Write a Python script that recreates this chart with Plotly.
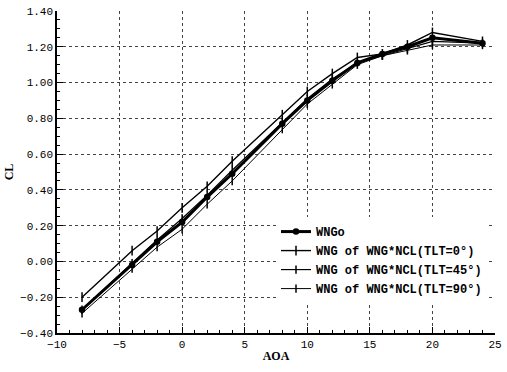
import plotly.graph_objects as go

aoa = [-8, -4, -2, 0, 2, 4, 8, 10, 12, 14, 16, 18, 20, 24]
cl_wngo = [-0.27, -0.02, 0.11, 0.22, 0.36, 0.49, 0.77, 0.90, 1.01, 1.11, 1.16, 1.20, 1.25, 1.22]
cl_tlt0 = [-0.20, 0.06, 0.17, 0.30, 0.42, 0.56, 0.82, 0.95, 1.05, 1.14, 1.16, 1.21, 1.28, 1.23]
cl_tlt45 = [-0.27, -0.01, 0.12, 0.24, 0.37, 0.51, 0.78, 0.91, 1.02, 1.11, 1.15, 1.19, 1.23, 1.22]
cl_tlt90 = [-0.29, -0.04, 0.08, 0.18, 0.32, 0.45, 0.74, 0.88, 0.99, 1.10, 1.15, 1.18, 1.21, 1.21]

names = ["WNGo", "WNG of WNG*NCL(TLT=0\u00b0)", "WNG of WNG*NCL(TLT=45\u00b0)", "WNG of WNG*NCL(TLT=90\u00b0)"]
series = [cl_wngo, cl_tlt0, cl_tlt45, cl_tlt90]
widths = [3.0, 1.4, 1.2, 1.0]
symbols = ["circle", "line-ns-open", "line-ns-open", "line-ns-open"]
msizes = [5, 7, 6, 6]

mono = "Liberation Mono"
fig = go.Figure()
for name, ys, w, sym, ms in zip(names, series, widths, symbols, msizes):
    fig.add_trace(go.Scatter(
        x=aoa, y=ys, name="<b>" + name + "</b>", mode="lines+markers",
        line=dict(color="black", width=w),
        marker=dict(symbol=sym, size=ms, color="black", line=dict(color="black", width=1.5)),
    ))

fig.update_layout(
    width=507, height=372,
    margin=dict(l=57, r=5, t=11, b=39),
    paper_bgcolor="white", plot_bgcolor="white",
    font=dict(family=mono, size=11, color="black"),
    legend=dict(
        x=0.5, y=0.36, xanchor="left", yanchor="top",
        bgcolor="white", borderwidth=0,
        font=dict(family=mono, size=12, color="black"),
        tracegroupgap=0,
    ),
)
fig.update_xaxes(
    range=[-10, 25], tickmode="linear", tick0=-10, dtick=5,
    ticklabeloverflow="allow",
    showline=True, linecolor="black", linewidth=1.5,
    ticks="inside", ticklen=6, tickcolor="black",
    minor=dict(ticks="inside", ticklen=3, dtick=1, tickcolor="black", showgrid=False),
    showgrid=True, gridcolor="#444", griddash="dot", gridwidth=1,
    zeroline=False,
    title=dict(text="<b>AOA</b>", font=dict(family="Liberation Serif", size=12), standoff=2),
)
fig.update_yaxes(
    range=[-0.4, 1.4], tickmode="linear", tick0=-0.4, dtick=0.2, tickformat=".2f",
    showline=True, linecolor="black", linewidth=1.5,
    ticks="inside", ticklen=6, tickcolor="black",
    minor=dict(ticks="inside", ticklen=3, dtick=0.05, tickcolor="black", showgrid=False),
    showgrid=True, gridcolor="#444", griddash="dot", gridwidth=1,
    zeroline=False,
    title=dict(text="<b>CL</b>", font=dict(family="Liberation Serif", size=12), standoff=4),
)

fig.write_html("out.html", config={"displayModeBar": False},
               post_script="document.body.style.margin='0px';")
